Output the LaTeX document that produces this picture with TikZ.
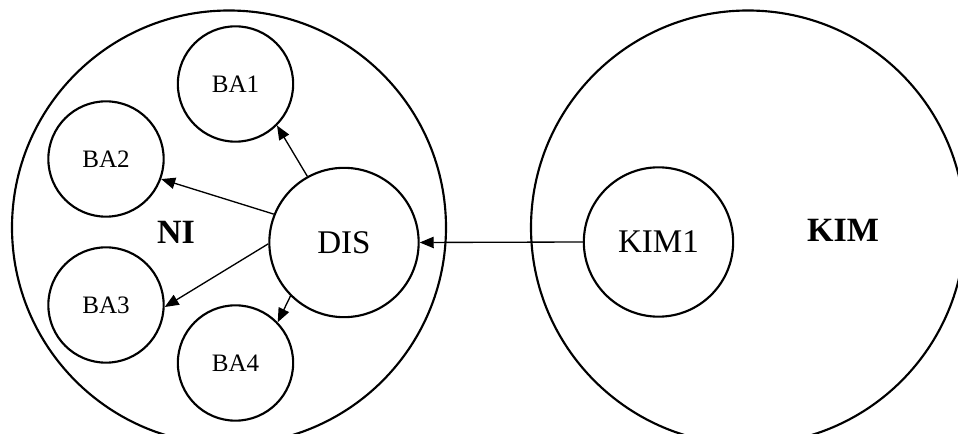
\documentclass[tikz,border=0pt]{standalone}
\usepackage{fontspec}
\setmainfont{Liberation Serif}
\usetikzlibrary{arrows.meta}
\begin{document}
\begin{tikzpicture}[x=0.75pt,y=-0.75pt,
  ring/.style={draw,circle,line width=1.6pt,inner sep=0pt},
  outer/.style={ring,minimum size=325.5pt},
  small/.style={ring,minimum size=86.5pt,font=\fontsize{18.8}{20}\selectfont},
  hub/.style={ring,minimum size=112pt,font=\fontsize{24.8}{26}\selectfont},
  title/.style={font=\fontsize{25.5}{27}\selectfont\bfseries,inner sep=0pt},
  link/.style={line width=1pt,-{Triangle[length=10.5pt,width=8.5pt]}}]
\useasboundingbox (0,0) rectangle (958,434);
\clip (0,0) rectangle (958,434);
% outer groups
\node[outer] (ni) at (229,227.5) {};
\node[outer] (kim) at (748,227.5) {};
\node[title] (nilabel) at (176,232) {NI};
\node[title] (kimlabel) at (843,230) {KIM};
% inner nodes
\node[hub] (dis) at (344,242.5) {DIS};
\node[hub] (kim1) at (658.5,242) {KIM1};
\node[small] (ba1) at (235.5,84) {BA1};
\node[small] (ba2) at (106,159) {BA2};
\node[small] (ba3) at (106,305) {BA3};
\node[small] (ba4) at (235.5,363) {BA4};
% connectors
\draw[link] (kim1.west) -- (dis.east);
\draw[link] (dis.119) -- (ba1.-45);
\draw[link] (dis.158) -- (ba2.-20);
\draw[link] (dis.181) -- (ba3.-2);
\draw[link] (dis.225) -- (ba4.44);
\end{tikzpicture}
\end{document}
